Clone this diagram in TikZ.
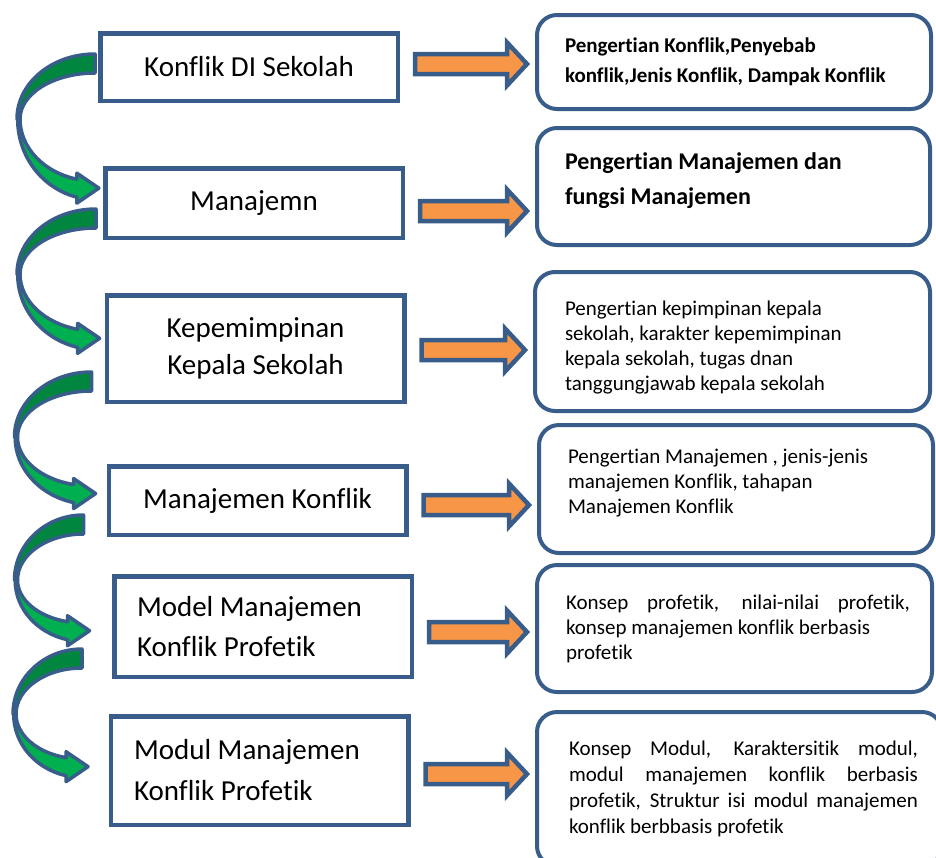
\documentclass[tikz,border=0pt]{standalone}
\usepackage{fontspec}
\setmainfont{Carlito}[Ligatures=NoCommon]
\usetikzlibrary{calc}

\definecolor{edgeblue}{RGB}{56,93,138}
\definecolor{leafgreen}{RGB}{0,176,80}
\definecolor{darkleaf}{RGB}{0,134,62}
\definecolor{pointerorange}{RGB}{247,150,70}

% font spacing back to the natural word space
\newcommand{\natspace}{\spaceskip=0pt\relax\xspaceskip=0pt\relax}

% block arrow from a topic box to its detail box
\newcommand{\pointer}[3]{%
  \coordinate (ps) at ($(#1.east)+(15,#3)$);
  \coordinate (pe) at ($(#2.west |- ps)+(-8,0)$);
  \draw[pointer] ($(ps)+(0,-10)$) -- ($(pe)+(-20,-10)$) -- ($(pe)+(-20,-21.5)$) -- (pe)
    -- ($(pe)+(-20,21.5)$) -- ($(pe)+(-20,10)$) -- ($(ps)+(0,10)$) -- cycle;}

% curved arrow from one topic box down to the next
\newcommand{\turn}[3]{%
  \begin{scope}[shift={(#1)}]
    \draw[turnback] (0,0) arc[start angle=270, end angle=180, x radius=#2, y radius=65]
      -- ++(3,0) arc[start angle=180, end angle=270, x radius=#2-3, y radius=46] -- cycle;
    \draw[turnfront] (-#2+3,65) arc[start angle=180, end angle=104, x radius=#2-3, y radius=#3-74]
      -- ++(0,-6) -- ++(22,15) -- ++(-22,15) -- ++(0,-6)
      arc[start angle=104, end angle=180, x radius=#2, y radius=#3-56] -- cycle;
  \end{scope}}

\begin{document}
\begin{tikzpicture}[x=1pt, y=-1pt,
    topic/.style={draw=edgeblue, line width=4.5pt, fill=white, minimum width=297.5pt,
      inner sep=0pt, align=center, font=\fontsize{29}{37}\selectfont,
      execute at begin node=\natspace},
    detail/.style={draw=edgeblue, line width=4pt, rounded corners=20pt, fill=white},
    note/.style={inner sep=0pt, align=left, font=\fontsize{21}{25}\selectfont,
      execute at begin node=\natspace},
    pointer/.style={draw=edgeblue, line width=4.5pt, fill=pointerorange},
    turnback/.style={draw=edgeblue, line width=3.5pt, line join=round, fill=darkleaf},
    turnfront/.style={draw=edgeblue, line width=3.5pt, line join=round, fill=leafgreen}]
    \useasboundingbox (0,0) rectangle (936,857);

    % topics
    \node[topic, minimum height=67.5pt] (k1) at (249,67) {Konflik DI Sekolah};
    \node[topic, minimum height=69.5pt] (k2) at (254,203) {Manajemn};
    \node[topic, minimum height=106.5pt] (k3) at (255.5,348.5) {Kepemimpinan\\Kepala Sekolah};
    \node[topic, minimum height=68.5pt] (k4) at (257.5,500.5) {Manajemen Konflik};
    \node[topic, minimum height=100.5pt, align=left, text width=252pt,
      font=\fontsize{29}{40}\selectfont] (k5) at (263,626.5) {Model Manajemen\\Konflik Profetik};
    \node[topic, minimum height=108.5pt, align=left, text width=251pt,
      font=\fontsize{29}{41}\selectfont] (k6) at (259.5,770.5) {Modul Manajemen\\Konflik Profetik};

    % details
    \node[detail, minimum width=394pt, minimum height=94pt] (r1) at (734,62) {};
    \node[detail, minimum width=393pt, minimum height=117pt] (r2) at (733.5,186.5) {};
    \node[detail, minimum width=395pt, minimum height=139pt] (r3) at (732.5,341.5) {};
    \node[detail, minimum width=394pt, minimum height=128pt] (r4) at (736,489) {};
    \node[detail, minimum width=395pt, minimum height=127pt] (r5) at (734.5,628.5) {};
    \node[detail, minimum width=405pt, minimum height=154pt] (r6) at (739.5,789) {};

    \node[note, text width=338pt, font=\bfseries\fontsize{21}{30}\selectfont] (r1t) at (r1.center)
      {Pengertian Konflik,Penyebab\\konflik,Jenis Konflik, Dampak Konflik};
    \node[note, text width=337pt, font=\bfseries\fontsize{24}{35}\selectfont] (r2t) at ($(r2.center)+(0,-6)$)
      {Pengertian Manajemen dan\\fungsi Manajemen};
    \node[note, text width=335pt] (r3t) at ($(r3.center)+(0,6)$)
      {Pengertian kepimpinan kepala\\sekolah, karakter kepemimpinan\\kepala sekolah, tugas dnan\\tanggungjawab kepala sekolah};
    \node[note, text width=336pt] (r4t) at ($(r4.center)+(0,-6)$)
      {Pengertian Manajemen , jenis-jenis\\manajemen Konflik, tahapan\\Manajemen Konflik};
    \node[note, text width=337pt] (r5t) at (r5.center)
      {\makebox[344pt][s]{Konsep profetik, nilai-nilai profetik,}\\konsep manajemen konflik berbasis\\profetik};
    \node[note, text width=341pt, font=\fontsize{21}{26}\selectfont] (r6t) at (r6.center)
      {\makebox[349pt][s]{Konsep Modul, Karaktersitik modul,}\\\makebox[349pt][s]{modul manajemen konflik berbasis}\\\makebox[349pt][s]{profetik, Struktur isi modul manajemen}\\konflik berbbasis profetik};

    % curved arrows between topics
    \coordinate (t1) at ($(k1.west)+(-3,-13)$);
    \coordinate (t2) at ($(k2.west)+(-7,6)$);
    \coordinate (t3) at ($(k3.west)+(-13,23.5)$);
    \coordinate (t4) at ($(k4.west)+(-23,14.5)$);
    \coordinate (t5) at ($(k5.west)+(-30,22.5)$);
    \turn{t1}{78}{136}
    \turn{t2}{79}{131}
    \turn{t3}{77}{123}
    \turn{t4}{69}{117}
    \turn{t5}{69}{119}

    % block arrows
    \pointer{k1}{r1}{-3}
    \pointer{k2}{r2}{8}
    \pointer{k3}{r3}{1.5}
    \pointer{k4}{r4}{4.5}
    \pointer{k5}{r5}{5.5}
    \pointer{k6}{r6}{3.5}
\end{tikzpicture}
\end{document}
